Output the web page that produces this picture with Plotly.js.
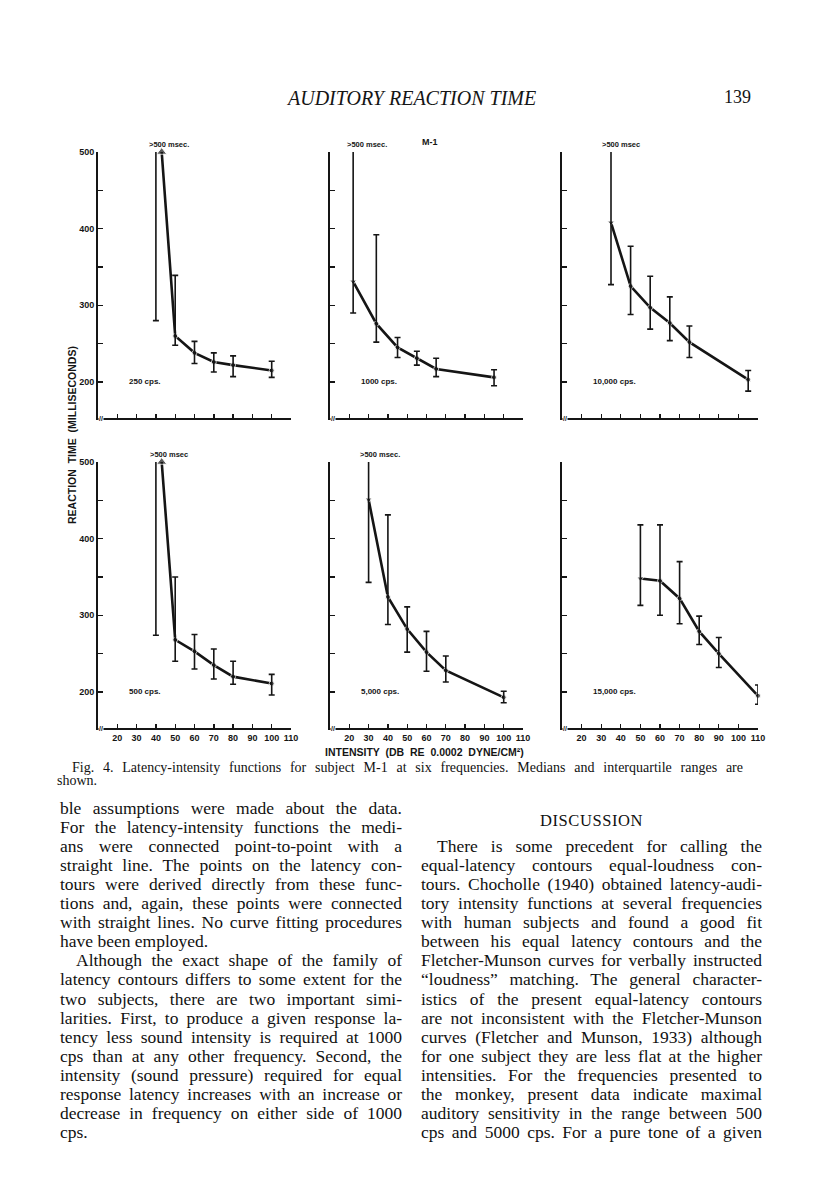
<!DOCTYPE html>
<html>
<head>
<meta charset="utf-8">
<script src="https://cdn.plot.ly/plotly-3.0.1.min.js"></script>
<style>
body{margin:0;background:#fff}
#page{position:relative;width:816px;height:1200px;overflow:hidden;background:#fff}
#chart{position:absolute;left:0;top:0;width:816px;height:1200px}
.ln{position:absolute;font-family:"Liberation Serif",serif;font-size:17.5px;line-height:19px;height:19px;
    text-align:justify;text-align-last:justify;color:#111;white-space:normal}
.ln.end{text-align-last:left}
.cap{font-size:14px;line-height:15px;height:15px}
.head{position:absolute;font-family:"Liberation Serif",serif;font-size:16.5px;color:#111;text-align:center;letter-spacing:0.6px}
</style>
</head>
<body>
<div id="page"><div id="chart"></div></div>
<script>
// latency-intensity data (dB, median, quartiles in msec)
// a median of 500 means ">500 msec."
var db250 = [40, 50, 60, 70, 80, 100];
var med250 = [500, 260, 238, 226, 222, 215];
var q1_250 = [280, 248, 224, 213, 207, 206];
var q3_250 = [505, 339, 253, 238, 234, 227];

var db1000 = [22, 34, 45, 55, 65, 95];
var med1000 = [331, 276, 245, 231, 217, 206];
var q1_1000 = [290, 252, 232, 222, 207, 195];
var q3_1000 = [505, 392, 258, 240, 231, 216];

var db10000 = [35, 45, 55, 65, 75, 105];
var med10000 = [408, 325, 297, 277, 252, 203];
var q1_10000 = [327, 288, 269, 254, 232, 188];
var q3_10000 = [505, 377, 338, 311, 273, 215];

var db500 = [40, 50, 60, 70, 80, 100];
var med500 = [500, 268, 253, 235, 220, 211];
var q1_500 = [274, 240, 230, 217, 210, 196];
var q3_500 = [505, 350, 275, 256, 240, 223];

var db5000 = [30, 40, 50, 60, 70, 100];
var med5000 = [451, 324, 282, 252, 228, 193];
var q1_5000 = [343, 288, 252, 227, 213, 186];
var q3_5000 = [505, 431, 311, 279, 247, 201];

var db15000 = [50, 60, 70, 80, 90, 110];
var med15000 = [348, 345, 322, 279, 250, 195];
var q1_15000 = [313, 300, 289, 262, 232, 184];
var q3_15000 = [418, 418, 370, 299, 271, 209];

var freqLabels = ["250 cps.", "1000 cps.", "10,000 cps.", "500 cps.", "5,000 cps.", "15,000 cps."];
var msecLabels = [">500 msec.", ">500 msec.", ">500 msec", ">500 msec", ">500 msec.", ""];

var xTickVals = [20, 30, 40, 50, 60, 70, 80, 90, 100, 110];
var xTickText = ["20", "30", "40", "50", "60", "70", "80", "90", "100", "110"];
var yTickVals = [200, 250, 300, 350, 400, 450, 500];
var yTickText = ["200", "", "300", "", "400", "", "500"];

var panels = [
  {db: db250, med: med250, q1: q1_250, q3: q3_250},
  {db: db1000, med: med1000, q1: q1_1000, q3: q3_1000},
  {db: db10000, med: med10000, q1: q1_10000, q3: q3_10000},
  {db: db500, med: med500, q1: q1_500, q3: q3_500},
  {db: db5000, med: med5000, q1: q1_5000, q3: q3_5000},
  {db: db15000, med: med15000, q1: q1_15000, q3: q3_15000}
];

// page geometry (pixels on the 816x1200 page)
var W = 816, H = 1200;
var colPx = [[98, 291], [330, 523], [562, 758]];
var rowPx = [[152, 418], [462, 728]];
var msecAt = [35.5, 18, 29.5, 36, 24.5, 0];
var ARROW_SHIFT = 3;
var INK = "#151515";

function px(x) { return x / W; }
function py(y) { return 1 - y / H; }

var data = [];
var layout = {
  width: W, height: H,
  margin: {l: 0, r: 0, t: 0, b: 0},
  paper_bgcolor: "#fff", plot_bgcolor: "rgba(0,0,0,0)",
  showlegend: false,
  annotations: []
};
var tickFont = {family: "Liberation Sans", size: 9, weight: "bold", color: INK};

panels.forEach(function (p, i) {
  var row = Math.floor(i / 3), col = i % 3;
  var xa = "x" + (i ? i + 1 : ""), ya = "y" + (i ? i + 1 : "");
  var xk = "xaxis" + (i ? i + 1 : ""), yk = "yaxis" + (i ? i + 1 : "");

  layout[xk] = {
    domain: [px(colPx[col][0]), px(colPx[col][1])], range: [10, 110], anchor: ya,
    showline: true, linewidth: 1.8, linecolor: INK, mirror: false,
    ticks: "inside", ticklen: 4, tickwidth: 1.4, tickcolor: INK,
    tickvals: xTickVals, ticktext: xTickText, showticklabels: row === 1,
    tickfont: tickFont, showgrid: false, zeroline: false, fixedrange: true
  };
  layout[yk] = {
    domain: [py(rowPx[row][1]), py(rowPx[row][0])], range: [153, 500], anchor: xa,
    showline: true, linewidth: 1.8, linecolor: INK,
    ticks: "inside", ticklen: 5, tickwidth: 1.4, tickcolor: INK,
    tickvals: yTickVals, ticktext: yTickText, showticklabels: col === 0,
    tickfont: tickFont, showgrid: false, zeroline: false, fixedrange: true
  };

  // median line; a >500 median is drawn as an up arrow just right of its bar
  var lineX = p.db.map(function (d, j) { return p.med[j] >= 500 ? d + ARROW_SHIFT : d; });
  var sym = p.med.map(function (m, j) {
    if (j > 0) return "circle";
    return m >= 500 ? "triangle-up" : "triangle-down";
  });
  var sz = p.med.map(function (m, j) { return j > 0 ? 5 : (m >= 500 ? 9 : 6); });
  data.push({
    x: lineX, y: p.med, xaxis: xa, yaxis: ya,
    mode: "lines+markers", cliponaxis: false,
    line: {color: INK, width: 2.6},
    marker: {symbol: sym, size: sz, color: INK}
  });
  // interquartile ranges
  data.push({
    x: p.db, y: p.med, xaxis: xa, yaxis: ya,
    mode: "markers", cliponaxis: false,
    marker: {size: 1, color: "rgba(0,0,0,0)"},
    error_y: {
      type: "data", symmetric: false,
      array: p.q3.map(function (v, j) { return v - p.med[j]; }),
      arrayminus: p.q1.map(function (v, j) { return p.med[j] - v; }),
      width: 3, thickness: 1.6, color: INK
    }
  });

  layout.annotations.push({
    xref: xa, yref: ya, x: 25, y: 200, xanchor: "left", yanchor: "middle",
    text: freqLabels[i], showarrow: false,
    font: {family: "Liberation Sans", size: 8, weight: "bold", color: INK}
  });
  if (msecLabels[i]) {
    layout.annotations.push({
      xref: xa, yref: ya, x: msecAt[i], y: 500, xanchor: "left", yanchor: "bottom", yshift: 1,
      text: msecLabels[i], showarrow: false,
      font: {family: "Liberation Sans", size: 7.5, weight: "bold", color: INK}
    });
  }
  // axis break mark
  layout.annotations.push({
    xref: xa, yref: ya, x: 11.5, y: 153, xanchor: "center", yanchor: "middle",
    text: "//", showarrow: false, bgcolor: "#fff", borderpad: 0,
    font: {family: "Liberation Sans", size: 7, weight: "bold", color: INK}
  });
});

layout.annotations.push(
  {xref: "paper", yref: "paper", x: px(411), y: py(85), text: "AUDITORY REACTION TIME",
   showarrow: false, font: {family: "Liberation Serif", size: 20, style: "italic", color: INK}},
  {xref: "paper", yref: "paper", x: px(753), y: py(85), text: "139",
   showarrow: false, font: {family: "Liberation Serif", size: 18, color: INK}},
  {xref: "paper", yref: "paper", x: px(430), y: py(135), text: "M-1",
   showarrow: false, font: {family: "Liberation Sans", size: 9, weight: "bold", color: INK}},
  {xref: "paper", yref: "paper", x: px(64), y: py(435), text: "REACTION  TIME  (MILLISECONDS)",
   textangle: -90, showarrow: false, font: {family: "Liberation Sans", size: 10.5, weight: "bold", color: INK}},
  {xref: "paper", yref: "paper", x: px(424), y: py(752), text: "INTENSITY  (DB  RE  0.0002  DYNE/CM²)",
   showarrow: false, font: {family: "Liberation Sans", size: 10.5, weight: "bold", color: INK}}
);

Plotly.newPlot("chart", data, layout, {staticPlot: true, displayModeBar: false});

// caption and body text of the page
var captionLines = [
  "Fig. 4. Latency-intensity functions for subject M-1 at six frequencies. Medians and interquartile ranges are",
  "shown."
];
var leftCol = [
  "ble assumptions were made about the data.",
  "For the latency-intensity functions the medi-",
  "ans were connected point-to-point with a",
  "straight line. The points on the latency con-",
  "tours were derived directly from these func-",
  "tions and, again, these points were connected",
  "with straight lines. No curve fitting procedures",
  "have been employed.",
  "Although the exact shape of the family of",
  "latency contours differs to some extent for the",
  "two subjects, there are two important simi-",
  "larities. First, to produce a given response la-",
  "tency less sound intensity is required at 1000",
  "cps than at any other frequency. Second, the",
  "intensity (sound pressure) required for equal",
  "response latency increases with an increase or",
  "decrease in frequency on either side of 1000",
  "cps."
];
var rightCol = [
  "There is some precedent for calling the",
  "equal-latency contours equal-loudness con-",
  "tours. Chocholle (1940) obtained latency-audi-",
  "tory intensity functions at several frequencies",
  "with human subjects and found a good fit",
  "between his equal latency contours and the",
  "Fletcher-Munson curves for verbally instructed",
  "\u201Cloudness\u201D matching. The general character-",
  "istics of the present equal-latency contours",
  "are not inconsistent with the Fletcher-Munson",
  "curves (Fletcher and Munson, 1933) although",
  "for one subject they are less flat at the higher",
  "intensities. For the frequencies presented to",
  "the monkey, present data indicate maximal",
  "auditory sensitivity in the range between 500",
  "cps and 5000 cps. For a pure tone of a given"
];

var page = document.getElementById("page");
function addLine(txt, left, width, top, cls) {
  var d = document.createElement("div");
  d.className = "ln" + (cls ? " " + cls : "");
  d.style.left = left + "px";
  d.style.width = width + "px";
  d.style.top = top + "px";
  d.textContent = txt;
  page.appendChild(d);
}
function placeColumn(lines, left, width, top0, indentAt, endAt) {
  lines.forEach(function (t, i) {
    var ind = indentAt.indexOf(i) >= 0 ? 16 : 0;
    addLine(t, left + ind, width - ind, top0 + i * 19.1, endAt.indexOf(i) >= 0 ? "end" : "");
  });
}
addLine(captionLines[0], 72, 671, 760, "cap");
addLine(captionLines[1], 57, 200, 773, "cap end");
placeColumn(leftCol, 60, 342, 798.5, [8], [7, 17]);
placeColumn(rightCol, 421, 341, 836.7, [0], []);

var h = document.createElement("div");
h.className = "head";
h.style.left = "421px"; h.style.width = "341px"; h.style.top = "811px";
h.textContent = "DISCUSSION";
page.appendChild(h);
</script>
</body>
</html>
